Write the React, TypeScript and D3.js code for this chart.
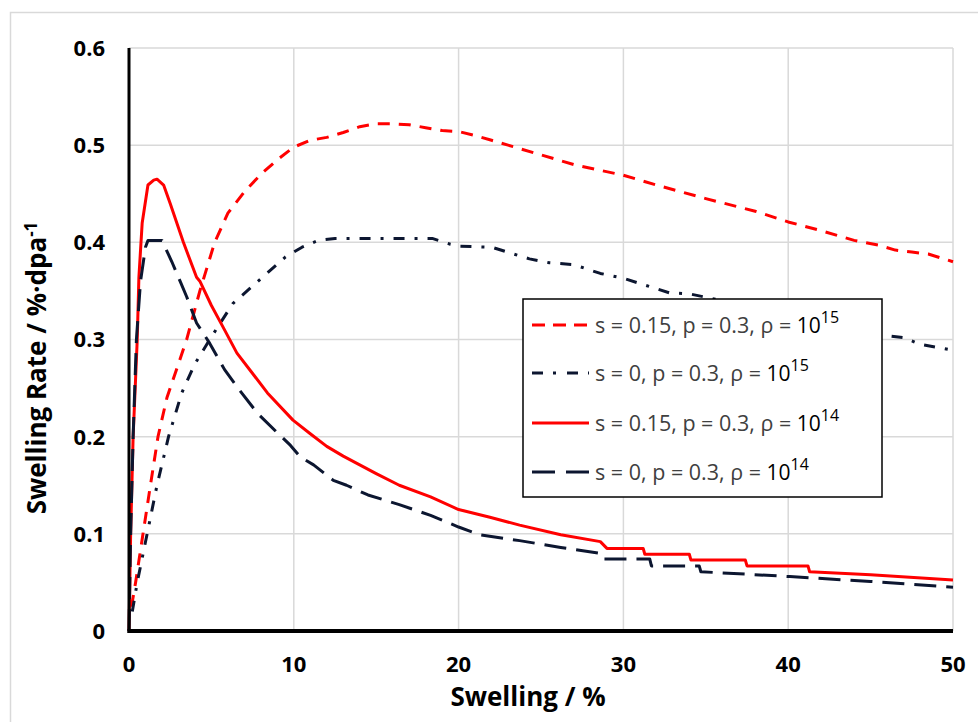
import React from "react";
import * as d3 from "d3";

const xTicks = [0, 10, 20, 30, 40, 50];
const yTicks = [0, 0.1, 0.2, 0.3, 0.4, 0.5, 0.6];

// s = 0.15, p = 0.3, rho = 1e15 (red dashed)
const xRedDash = [0.15, 0.4, 0.85, 1.3, 1.76, 2.3, 2.9, 3.5, 4.3, 5.2, 6, 7, 8, 9, 10, 11, 12, 13, 14, 15, 16, 17, 18, 19, 20, 21, 22, 23, 25, 27, 30, 32, 35, 38, 40, 42, 44, 45.5, 46.5, 47.5, 48.5, 50];
const yRedDash = [0.025, 0.05, 0.1, 0.15, 0.2, 0.24, 0.27, 0.3, 0.35, 0.4, 0.43, 0.452, 0.47, 0.485, 0.498, 0.505, 0.508, 0.513, 0.519, 0.522, 0.522, 0.521, 0.518, 0.515, 0.514, 0.51, 0.505, 0.5, 0.49, 0.48, 0.469, 0.459, 0.445, 0.432, 0.421, 0.412, 0.402, 0.397, 0.392, 0.39, 0.388, 0.38];

// s = 0, p = 0.3, rho = 1e15 (navy dash-dot)
const xNavyDashDot = [0.2, 0.5, 1.1, 1.7, 2.4, 3.2, 4.0, 4.9, 6.3, 7.5, 8.5, 9.5, 10.5, 11.5, 12.5, 15, 18.4, 19.5, 20.1, 22, 24.3, 25.5, 27, 28.6, 30, 32.8, 34, 36, 40, 44, 46, 47, 48, 50];
const yNavyDashDot = [0.02, 0.05, 0.1, 0.15, 0.2, 0.245, 0.275, 0.3, 0.337, 0.355, 0.37, 0.385, 0.395, 0.402, 0.404, 0.404, 0.404, 0.398, 0.396, 0.395, 0.383, 0.379, 0.377, 0.368, 0.363, 0.348, 0.347, 0.34, 0.325, 0.31, 0.304, 0.302, 0.295, 0.289];

// s = 0.15, p = 0.3, rho = 1e14 (red solid)
const xRedSolid = [0, 0.1, 0.25, 0.5, 0.6, 0.8, 1.15, 1.5, 1.7, 2.1, 2.5, 3.3, 4.1, 4.3, 5.0, 5.7, 6.55, 7.5, 8.4, 9.95, 11, 12, 13, 14, 15, 16.4, 18.3, 20, 21.9, 23.7, 26.2, 28.6, 29, 31.2, 31.3, 34, 34.1, 37.4, 37.5, 41.2, 41.3, 45, 50];
const yRedSolid = [0, 0.1, 0.2, 0.3, 0.364, 0.42, 0.459, 0.464, 0.465, 0.459, 0.44, 0.4, 0.364, 0.36, 0.335, 0.313, 0.286, 0.265, 0.245, 0.217, 0.203, 0.19, 0.18, 0.171, 0.162, 0.15, 0.138, 0.125, 0.117, 0.109, 0.099, 0.092, 0.085, 0.085, 0.079, 0.079, 0.073, 0.073, 0.067, 0.067, 0.061, 0.058, 0.0525];

// s = 0, p = 0.3, rho = 1e14 (navy long dash)
const xNavyDash = [0, 0.1, 0.25, 0.45, 0.7, 1.0, 1.15, 2.0, 2.6, 3.1, 3.5, 4.1, 4.9, 5.8, 6.7, 7.8, 9, 9.8, 10.4, 11.2, 12.4, 13.2, 14.5, 16.4, 18.3, 20, 21.3, 23.7, 26.2, 28.6, 28.8, 31.6, 31.7, 34.6, 34.7, 40.1, 45, 50];
const yNavyDash = [0, 0.1, 0.2, 0.3, 0.36, 0.395, 0.402, 0.402, 0.38, 0.36, 0.344, 0.317, 0.296, 0.269, 0.248, 0.224, 0.204, 0.191, 0.179, 0.171, 0.155, 0.15, 0.14, 0.13, 0.119, 0.107, 0.099, 0.093, 0.086, 0.08, 0.074, 0.074, 0.067, 0.067, 0.061, 0.056, 0.051, 0.045];

const legendMain = ["s = 0.15, p = 0.3, ρ = ", "s = 0, p = 0.3, ρ = ", "s = 0.15, p = 0.3, ρ = ", "s = 0, p = 0.3, ρ = "];
const legendExp = ["15", "15", "14", "14"];

const RED = "#ff0000";
const NAVY = "#0c1630";

export default function App() {
  const x = d3.scaleLinear().domain([0, 50]).range([129, 953]);
  const y = d3.scaleLinear().domain([0, 0.6]).range([631, 48]);
  const line = d3
    .line<[number, number]>()
    .x((d) => x(d[0]))
    .y((d) => y(d[1]))
    .curve(d3.curveLinear);
  const zip = (a: number[], b: number[]) => a.map((v, i) => [v, b[i]] as [number, number]);

  const series = [
    { d: zip(xRedDash, yRedDash), color: RED, dash: "12 9" },
    { d: zip(xNavyDashDot, yNavyDashDot), color: NAVY, dash: "11 10 3 10" },
    { d: zip(xRedSolid, yRedSolid), color: RED, dash: "" },
    { d: zip(xNavyDash, yNavyDash), color: NAVY, dash: "22 10" },
  ];
  const legendDash = ["13 8", "11 10 3 11", "", "23 11"];

  const font = "'Open Sans', 'DejaVu Sans', sans-serif";
  const lgX = 523, lgY = 299, lgW = 359, lgH = 198;
  const rowY = [325, 373, 423, 472];

  return (
    <svg
      width={978}
      height={722}
      style={{ position: "absolute", left: 0, top: 0, background: "#fff" }}
      fontFamily={font}
    >
      <rect x={0} y={0} width={978} height={722} fill="#fff" />
      <rect x={10.5} y={12.5} width={1000} height={800} fill="#fff" stroke="#d9d9d9" strokeWidth={1.5} />

      {/* gridlines */}
      {xTicks.filter((t) => t > 0).map((t) => (
        <line key={"gx" + t} x1={x(t)} x2={x(t)} y1={y(0.6)} y2={y(0)} stroke="#d9d9d9" strokeWidth={1.5} />
      ))}
      {yTicks.filter((t) => t > 0).map((t) => (
        <line key={"gy" + t} x1={x(0)} x2={x(50)} y1={y(t)} y2={y(t)} stroke="#d9d9d9" strokeWidth={1.5} />
      ))}

      {/* series */}
      {series.map((s, i) => (
        <path
          key={"s" + i}
          d={line(s.d) || ""}
          fill="none"
          stroke={s.color}
          strokeWidth={3}
          strokeDasharray={s.dash || undefined}
          strokeLinejoin="round"
        />
      ))}

      {/* axes */}
      <line x1={x(0)} x2={x(0)} y1={y(0.6)} y2={y(0) + 2} stroke="#000" strokeWidth={3} />
      <line x1={x(0) - 1.5} x2={x(50)} y1={y(0)} y2={y(0)} stroke="#000" strokeWidth={4} />

      {/* tick labels */}
      {yTicks.map((t) => (
        <text key={"yl" + t} x={105} y={y(t)} dy="0.36em" textAnchor="end" fontSize={22} fontWeight="bold" fill="#000">
          {t === 0 ? "0" : t.toFixed(1)}
        </text>
      ))}
      {xTicks.map((t) => (
        <text key={"xl" + t} x={x(t)} y={664} dy="0.36em" textAnchor="middle" fontSize={22} fontWeight="bold" fill="#000">
          {t}
        </text>
      ))}

      {/* axis titles */}
      <text x={528} y={706} textAnchor="middle" fontSize={26} fontWeight="bold" fill="#000">
        Swelling / %
      </text>
      <text
        transform={`translate(37,368) rotate(-90)`}
        textAnchor="middle"
        dy="0.36em"
        fontSize={26}
        fontWeight="bold"
        fill="#000"
      >
        Swelling Rate / %·dpa
        <tspan dy="-0.55em" fontSize={17}>-1</tspan>
      </text>

      {/* legend */}
      <rect x={lgX} y={lgY} width={lgW} height={lgH} fill="#fff" stroke="#000" strokeWidth={1.5} />
      {series.map((s, i) => (
        <g key={"lg" + i}>
          <line
            x1={532}
            x2={589}
            y1={rowY[i]}
            y2={rowY[i]}
            stroke={s.color}
            strokeWidth={3}
            strokeDasharray={legendDash[i] || undefined}
          />
          <text x={595} y={rowY[i]} dy="0.36em" fontSize={21.5} fill="#404040">
            {legendMain[i]}
            <tspan fill="#000" fontSize={21}>10</tspan>
            <tspan fill="#000" fontSize={16} dy="-0.6em">{legendExp[i]}</tspan>
          </text>
        </g>
      ))}
    </svg>
  );
}
